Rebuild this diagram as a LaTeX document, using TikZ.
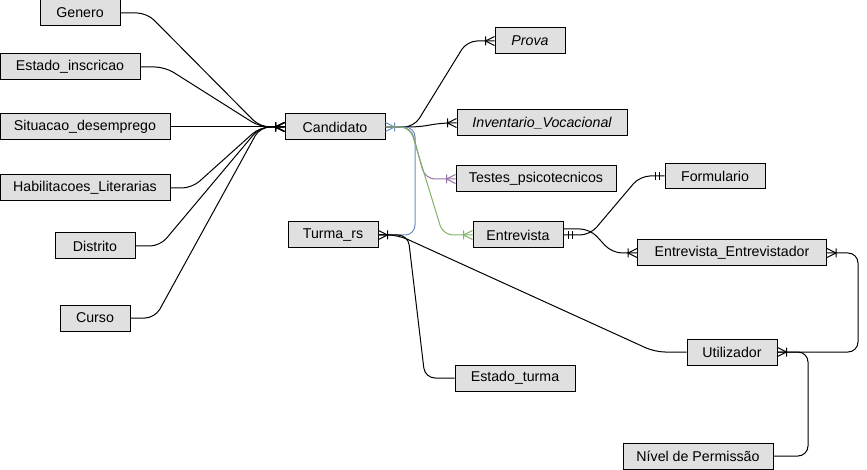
\documentclass[tikz,border=0pt]{standalone}
\usepackage{fontspec}
\setmainfont{Liberation Sans}
\usepackage{tikz}
\usetikzlibrary{arrows.meta,positioning}

% crow's foot with a bar (one or many)
\pgfdeclarearrow{
	name = crowbar,
	setup code = {
		\pgfarrowssettipend{0pt}
		\pgfarrowssetlineend{0pt}
		\pgfarrowssetbackend{-9pt}
		\pgfarrowshullpoint{0pt}{4.5pt}
		\pgfarrowshullpoint{0pt}{-4.5pt}
		\pgfarrowshullpoint{-9pt}{0pt}
	},
	drawing code = {
		\pgfsetdash{}{0pt}
		\pgfpathmoveto{\pgfqpoint{0pt}{4.5pt}}
		\pgfpathlineto{\pgfqpoint{-9pt}{0pt}}
		\pgfpathlineto{\pgfqpoint{0pt}{-4.5pt}}
		\pgfpathmoveto{\pgfqpoint{-9pt}{4.5pt}}
		\pgfpathlineto{\pgfqpoint{-9pt}{-4.5pt}}
		\pgfusepathqstroke
	}
}
% two bars (one and only one)
\pgfdeclarearrow{
	name = twobar,
	setup code = {
		\pgfarrowssettipend{0pt}
		\pgfarrowssetlineend{0pt}
		\pgfarrowssetbackend{-9pt}
		\pgfarrowshullpoint{0pt}{4pt}
		\pgfarrowshullpoint{-9pt}{-4pt}
	},
	drawing code = {
		\pgfsetdash{}{0pt}
		\pgfpathmoveto{\pgfqpoint{-5pt}{4pt}}
		\pgfpathlineto{\pgfqpoint{-5pt}{-4pt}}
		\pgfpathmoveto{\pgfqpoint{-9pt}{4pt}}
		\pgfpathlineto{\pgfqpoint{-9pt}{-4pt}}
		\pgfusepathqstroke
	}
}

\definecolor{boxfill}{RGB}{224,224,224}
\definecolor{linkblue}{HTML}{6C8EBF}
\definecolor{linkpurple}{HTML}{9673A6}
\definecolor{linkgreen}{HTML}{82B366}

\begin{document}
\begin{tikzpicture}[x=1pt,y=-1pt,
	entity/.style={draw=black, line width=1pt, fill=boxfill, minimum height=26pt, inner sep=0pt, font=\fontsize{14.2}{16}\selectfont},
	link/.style={draw=black, line width=1pt, rounded corners=10pt}]
	\useasboundingbox (0,0) rectangle (867,470);

	% attributes of the candidate
	\node[entity, minimum width=80pt] (genero) at (80,13) {Genero};
	\node[entity, minimum width=140pt] (estinsc) at (70,67) {Estado\_inscricao};
	\node[entity, minimum width=170pt] (situacao) at (85,127) {Situacao\_desemprego};
	\node[entity, minimum width=170pt] (habilit) at (85,188) {Habilitacoes\_Literarias};
	\node[entity, minimum width=80pt] (distrito) at (95,246) {Distrito};
	\node[entity, minimum width=70pt] (curso) at (95,318) {Curso};

	\node[entity, minimum width=100pt] (candidato) at (335,127) {Candidato};
	\node[entity, minimum width=90pt] (turma) at (333,235) {Turma\_rs};

	\node[entity, minimum width=70pt, font=\fontsize{14.2}{16}\selectfont\itshape] (prova) at (530,41) {Prova};
	\node[entity, minimum width=170pt, font=\fontsize{14.2}{16}\selectfont\itshape] (invent) at (542,123) {Inventario\_Vocacional};
	\node[entity, minimum width=160pt] (testes) at (536,179) {Testes\_psicotecnicos};
	\node[entity, minimum width=90pt] (entrevista) at (518,235) {Entrevista};
	\node[entity, minimum width=120pt] (estturma) at (515,378) {Estado\_turma};

	\node[entity, minimum width=100pt, minimum height=25pt] (formulario) at (715,176) {Formulario};
	\node[entity, minimum width=189pt] (entrevistador) at (732,253) {Entrevista\_Entrevistador};
	\node[entity, minimum width=90pt] (utilizador) at (732,352) {Utilizador};
	\node[entity, minimum width=150pt] (nivel) at (698,456) {Nível de Permissão};

	% attributes to Candidato
	\draw[link, -crowbar] (genero.east) -- (147,13) -- (260,127) -- (candidato.west);
	\draw[link, -crowbar] (estinsc.east) -- (165,67) -- (260,127) -- (candidato.west);
	\path[link, -crowbar] (situacao) edge (candidato);
	\draw[link, -crowbar] (habilit.east) -- (192,188) -- (260,127) -- (candidato.west);
	\draw[link, -crowbar] (distrito.east) -- (160,246) -- (260,127) -- (candidato.west);
	\draw[link, -crowbar] (curso.east) -- (155,318) -- (260,127) -- (candidato.west);

	% Candidato to the tests
	\draw[link, -crowbar] (candidato.east) -- (414,127) -- (467,41) -- (prova.west);
	\draw[link, -crowbar] (candidato.east) -- (420,127) -- (440,123) -- (invent.west);
	\draw[link, draw=linkblue, crowbar-] (candidato.east) -- (415,127) -- (415,235) -- (turma.east);
	\draw[link, draw=linkpurple, -crowbar] (candidato.east) -- (411,127) -- (425,179) -- (testes.west);
	\draw[link, draw=linkgreen, -crowbar] (candidato.east) -- (410,127) -- (443,235) -- (entrevista.west);

	% Turma_rs
	\draw[link, crowbar-] (turma.east) -- (408,235) -- (425,378) -- (estturma.west);
	\draw[link] (turma.east) -- (398,235) -- (655,352) -- (utilizador.west);

	% Entrevista
	\draw[link, twobar-twobar] (entrevista.east) -- (590,235) -- (640,176) -- (formulario.west);
	\draw[link, -crowbar] ([yshift=6pt]entrevista.east) -- (590,229) -- (612,253) -- (entrevistador.west);
	\draw[link, crowbar-] (entrevistador.east) -- (858,253) -- (858,352) -- (utilizador.east);
	\draw[link, -crowbar] (nivel.east) -- (808,456) -- (808,352) -- (utilizador.east);
\end{tikzpicture}
\end{document}
